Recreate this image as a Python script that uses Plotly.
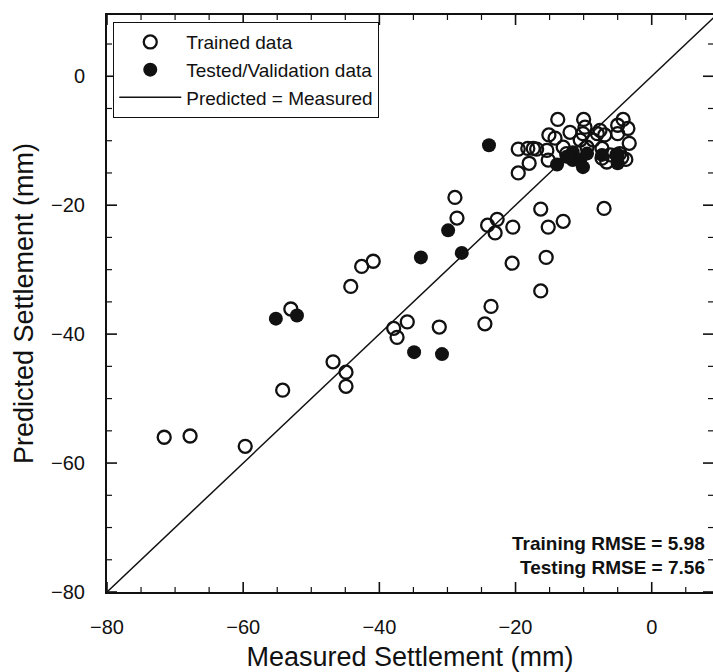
import plotly.graph_objects as go

# Measured vs predicted settlement (mm)
train_measured = [
    -71.6, -67.8, -59.7, -54.2, -53.0, -46.8, -44.9, -44.9, -44.2, -42.6,
    -40.9, -37.9, -37.4, -35.9, -31.2, -28.9, -28.6, -24.5, -23.6, -24.1,
    -22.7, -23.0, -20.4, -20.5, -16.3, -15.2, -15.5, -16.3, -13.0, -7.0,
    -19.6, -18.0, -19.6, -18.2, -16.9, -15.4, -15.2, -15.1, -14.2, -13.8,
    -13.0, -12.0, -10.5, -10.1, -10.0, -9.8, -9.5, -8.6, -8.0, -7.6,
    -7.3, -7.3, -6.9, -6.1, -6.6, -5.1, -5.0, -5.0, -4.7, -4.2,
    -3.5, -3.3, -12.5, -17.4, -4.4, -3.8,
]
train_predicted = [
    -56.0, -55.8, -57.4, -48.7, -36.1, -44.3, -45.9, -48.1, -32.6, -29.5,
    -28.7, -39.1, -40.5, -38.1, -38.9, -18.8, -22.0, -38.4, -35.7, -23.1,
    -22.2, -24.3, -23.4, -29.0, -20.6, -23.4, -28.1, -33.3, -22.5, -20.5,
    -15.0, -13.5, -11.3, -11.2, -11.3, -11.5, -13.0, -9.1, -9.6, -6.7,
    -11.0, -8.7, -9.9, -8.9, -6.7, -7.9, -11.0, -9.9, -8.9, -8.4,
    -11.2, -12.7, -9.1, -12.2, -13.3, -12.2, -7.6, -8.9, -12.0, -6.7,
    -8.1, -10.4, -12.0, -11.2, -12.6, -12.9,
]

test_measured = [
    -55.2, -52.1, -33.9, -29.9, -27.9, -34.9, -30.8, -23.9, -13.9, -11.6,
    -11.6, -10.5, -10.1, -9.5, -12.5, -5.0, -5.1, -7.3,
]
test_predicted = [
    -37.6, -37.1, -28.1, -23.9, -27.4, -42.8, -43.1, -10.7, -13.7, -11.8,
    -13.0, -13.0, -14.1, -12.0, -12.5, -13.5, -12.2, -12.2,
]

# 1:1 reference line end points
line_values = [-80, 10]

rmse_train = 5.98
rmse_test = 7.56

# tick positions (major labelled, minor unlabelled)
major_ticks = [-80, -60, -40, -20, 0]
minor_ticks_x = [-75, -70, -65, -55, -50, -45, -35, -30, -25, -15, -10, -5, 5]
minor_ticks_y = [-75, -70, -65, -55, -50, -45, -35, -30, -25, -15, -10, -5, 5]

X_RANGE = [-80, 9]
Y_RANGE = [-80, 9.5]

FONT = "Arial, Liberation Sans, sans-serif"
INK = "#111111"
MAJOR_LEN = 10
MINOR_LEN = 5

fig = go.Figure()

fig.add_trace(go.Scatter(
    x=line_values, y=line_values, mode="lines",
    line=dict(color=INK, width=1.5),
    name="Predicted = Measured", legendrank=3,
))
fig.add_trace(go.Scatter(
    x=train_measured, y=train_predicted, mode="markers",
    marker=dict(symbol="circle-open", size=13, color=INK,
                line=dict(width=2.3, color=INK)),
    name="Trained data", legendrank=1,
))
fig.add_trace(go.Scatter(
    x=test_measured, y=test_predicted, mode="markers",
    marker=dict(symbol="circle", size=14, color=INK, line=dict(width=0)),
    name="Tested/Validation data", legendrank=2,
))

fig.add_annotation(
    xref="paper", yref="paper", x=0.99, y=0.084, xanchor="right", yanchor="middle",
    text=f"<b>Training RMSE = {rmse_train:.2f}</b>", showarrow=False,
    font=dict(family=FONT, size=19, color=INK),
)
fig.add_annotation(
    xref="paper", yref="paper", x=0.99, y=0.043, xanchor="right", yanchor="middle",
    text=f"<b>Testing RMSE = {rmse_test:.2f}</b>", showarrow=False,
    font=dict(family=FONT, size=19, color=INK),
)


def add_x_ticks(values, length, width):
    # inward tick marks on the bottom and top frame edges
    for v in values:
        for anchor, sign in ((0, 1), (1, -1)):
            fig.add_shape(
                type="line", xref="x", yref="paper",
                x0=v, x1=v, ysizemode="pixel", yanchor=anchor,
                y0=0, y1=sign * length,
                line=dict(color=INK, width=width),
            )


def add_y_ticks(values, length, width):
    # inward tick marks on the left and right frame edges
    for v in values:
        for anchor, sign in ((0, 1), (1, -1)):
            fig.add_shape(
                type="line", xref="paper", yref="y",
                y0=v, y1=v, xsizemode="pixel", xanchor=anchor,
                x0=0, x1=sign * length,
                line=dict(color=INK, width=width),
            )


add_x_ticks(major_ticks, MAJOR_LEN, 1.6)
add_x_ticks(minor_ticks_x, MINOR_LEN, 1.2)
add_y_ticks(major_ticks, MAJOR_LEN, 1.6)
add_y_ticks(minor_ticks_y, MINOR_LEN, 1.2)

fig.update_layout(
    xaxis=dict(
        range=X_RANGE, showline=True, linecolor=INK, linewidth=2, mirror=True,
        tickmode="array", tickvals=major_ticks, ticks="",
        showgrid=False, zeroline=False,
        tickfont=dict(family=FONT, size=20, color=INK),
        ticklabelstandoff=16,
        title=dict(text="Measured Settlement (mm)", standoff=14,
                   font=dict(family=FONT, size=27, color=INK)),
    ),
    yaxis=dict(
        range=Y_RANGE, showline=True, linecolor=INK, linewidth=2, mirror=False,
        tickmode="array", tickvals=major_ticks, ticks="",
        showgrid=False, zeroline=False,
        tickfont=dict(family=FONT, size=20, color=INK),
        ticklabelstandoff=16,
        title=dict(text="Predicted Settlement (mm)", standoff=10,
                   font=dict(family=FONT, size=27, color=INK)),
    ),
    width=713, height=672,
    margin=dict(l=107, r=0, t=15, b=80),
    paper_bgcolor="white", plot_bgcolor="white",
    font=dict(family=FONT, color=INK),
    showlegend=True,
    legend=dict(
        x=0.01, y=0.988, xanchor="left", yanchor="top",
        bgcolor="white", bordercolor=INK, borderwidth=1.2,
        font=dict(family=FONT, size=19, color=INK),
        itemwidth=62, tracegroupgap=0,
    ),
)

fig.write_html("out.html")
